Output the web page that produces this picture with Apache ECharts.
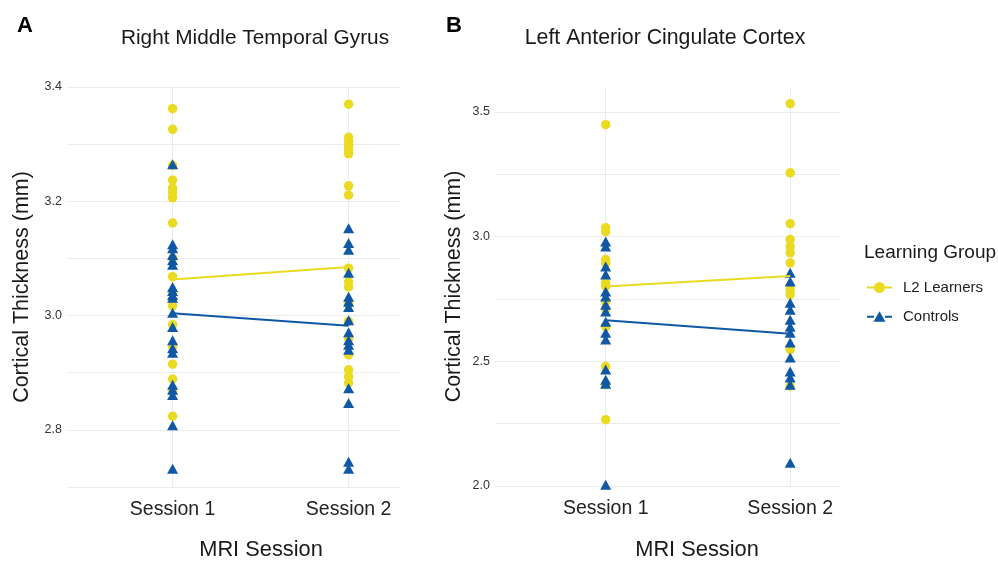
<!DOCTYPE html>
<html>
<head>
<meta charset="utf-8">
<script src="https://cdn.jsdelivr.net/npm/echarts@6/dist/echarts.min.js"></script>
<style>
html,body{margin:0;padding:0;background:#fff;}
#chart{width:998px;height:564px;}
</style>
</head>
<body>
<div id="chart"></div>
<script>
// ---- data ----
const sessions = ['Session 1', 'Session 2'];
const groups = ['L2 Learners', 'Controls'];
const panelTitles = ['Right Middle Temporal Gyrus', 'Left Anterior Cingulate Cortex'];
const panelLetters = ['A', 'B'];
const leftYTicks = ['2.8', '3.0', '3.2', '3.4'];
const rightYTicks = ['2.0', '2.5', '3.0', '3.5'];

// Panel A: Right Middle Temporal Gyrus
const rmtgL2S1 = [3.362, 3.326, 3.263, 3.237, 3.223, 3.215, 3.206, 3.162, 3.100, 3.068, 3.040, 3.017, 2.984, 2.946, 2.915, 2.889, 2.868, 2.824];
const rmtgCtS1 = [3.265, 3.125, 3.118, 3.106, 3.097, 3.089, 3.050, 3.043, 3.036, 3.031, 3.005, 2.980, 2.957, 2.943, 2.935, 2.879, 2.870, 2.861, 2.808, 2.732];
const rmtgL2S2 = [3.370, 3.312, 3.305, 3.297, 3.290, 3.283, 3.227, 3.211, 3.083, 3.059, 3.050, 3.020, 2.990, 2.960, 2.931, 2.905, 2.893, 2.882];
const rmtgCtS2 = [3.153, 3.127, 3.115, 3.075, 3.033, 3.024, 3.015, 2.992, 2.971, 2.957, 2.949, 2.940, 2.873, 2.847, 2.744, 2.732];
const rmtgMeanL2 = [3.063, 3.085];
const rmtgMeanCt = [3.004, 2.982];

// Panel B: Left Anterior Cingulate Cortex
const accL2S1 = [3.449, 3.036, 3.020, 2.908, 2.895, 2.815, 2.800, 2.740, 2.710, 2.639, 2.479, 2.406, 2.266];
const accCtS1 = [2.980, 2.960, 2.880, 2.848, 2.780, 2.760, 2.727, 2.700, 2.659, 2.615, 2.587, 2.467, 2.426, 2.410, 2.005];
const accL2S2 = [3.533, 3.256, 3.052, 2.988, 2.960, 2.935, 2.895, 2.787, 2.767, 2.547, 2.400];
const accCtS2 = [2.855, 2.820, 2.735, 2.707, 2.667, 2.639, 2.615, 2.575, 2.515, 2.459, 2.435, 2.406, 2.093];
const accMeanL2 = [2.800, 2.842];
const accMeanCt = [2.665, 2.611];

// ---- styling ----
const FONT = "'Liberation Sans', Arial, Helvetica, sans-serif";
const YELLOW = '#EADB22';
const BLUE = '#0F58A6';
const GRID = '#EBEBEB';
const ICON_L2 = 'path://M0,5h7v2H0z M18,5h7v2h-7z M18,6a5.5,5.5 0 1,1 -11,0a5.5,5.5 0 1,1 11,0z';
const ICON_CT = 'path://M0,5h7v2H0z M18,5h7v2h-7z M12.5,0.5L18.5,11H6.5z';

function pts(s1, s2) {
  return s1.map(v => [1, v]).concat(s2.map(v => [2, v]));
}
function meanLine(m) { return m.map((v, i) => [i + 1, v]); }

const chart = echarts.init(document.getElementById('chart'), null, {renderer: 'canvas'});

function xAxisDef(gridIndex, max) {
  return {
    type: 'value', gridIndex, min: 0.4, max: max,
    axisLine: {show: false},
    axisTick: {show: false, customValues: [1, 2]},
    axisLabel: {
      customValues: [1, 2],
      formatter: v => sessions[Math.round(v) - 1] || '',
      fontFamily: FONT, fontSize: 19.5, color: '#222', margin: 13
    },
    splitLine: {show: true, lineStyle: {color: GRID, width: 1}}
  };
}

const option = {
  animation: false,
  backgroundColor: '#ffffff',
  textStyle: {fontFamily: FONT},
  title: [
    {text: panelLetters[0], left: 12, top: 10, textStyle: {fontFamily: FONT, fontSize: 22, fontWeight: 'bold', color: '#000'}},
    {text: panelLetters[1], left: 441, top: 10, textStyle: {fontFamily: FONT, fontSize: 22, fontWeight: 'bold', color: '#000'}},
    {text: panelTitles[0], left: 250, top: 23, textAlign: 'center', textStyle: {fontFamily: FONT, fontSize: 20.8, fontWeight: 'normal', color: '#1a1a1a'}},
    {text: panelTitles[1], left: 660, top: 23, textAlign: 'center', textStyle: {fontFamily: FONT, fontSize: 21.3, fontWeight: 'normal', color: '#1a1a1a'}}
  ],
  legend: {
    orient: 'vertical', left: 862, top: 275,
    data: groups.map((g, i) => ({name: g, icon: i === 0 ? ICON_L2 : ICON_CT})),
    itemWidth: 25, itemHeight: 12, itemGap: 14,
    textStyle: {fontFamily: FONT, fontSize: 15, color: '#222', padding: [0, 0, 0, 6]},
    selectedMode: false
  },
  graphic: [
    {type: 'text', left: 864, top: 243, style: {text: 'Learning Group', font: '19px ' + FONT, fill: '#1a1a1a'}},
    {type: 'text', x: 261, y: 550, style: {text: 'MRI Session', font: '21.8px ' + FONT, fill: '#1a1a1a', align: 'center', verticalAlign: 'middle'}},
    {type: 'text', x: 697, y: 550, style: {text: 'MRI Session', font: '21.8px ' + FONT, fill: '#1a1a1a', align: 'center', verticalAlign: 'middle'}}
  ],
  grid: [
    {left: 67, top: 87, width: 333, height: 400},
    {left: 495, top: 87, width: 345, height: 399}
  ],
  xAxis: [xAxisDef(0, 2.292), xAxisDef(1, 2.27)],
  yAxis: [
    {
      type: 'value', gridIndex: 0, min: 2.7, max: 3.4, interval: 0.1,
      name: 'Cortical Thickness (mm)', nameLocation: 'middle', nameGap: 34,
      nameTextStyle: {fontFamily: FONT, fontSize: 21.5, color: '#1a1a1a'},
      axisLine: {show: false}, axisTick: {show: false},
      axisLabel: {
        fontFamily: FONT, fontSize: 12.5, color: '#333', margin: 5,
        formatter: v => { const s = v.toFixed(1); return leftYTicks.includes(s) && Math.abs(v - parseFloat(s)) < 1e-6 ? s : ''; }
      },
      splitLine: {show: true, lineStyle: {color: GRID, width: 1}}
    },
    {
      type: 'value', gridIndex: 1, min: 2.0, max: 3.6, interval: 0.25,
      name: 'Cortical Thickness (mm)', nameLocation: 'middle', nameGap: 30,
      nameTextStyle: {fontFamily: FONT, fontSize: 21.5, color: '#1a1a1a'},
      axisLine: {show: false}, axisTick: {show: false},
      axisLabel: {
        fontFamily: FONT, fontSize: 12.5, color: '#333', margin: 5, showMaxLabel: false,
        formatter: v => { const s = v.toFixed(1); return rightYTicks.includes(s) && Math.abs(v - parseFloat(s)) < 1e-6 ? s : ''; }
      },
      splitLine: {show: true, showMaxLine: false, lineStyle: {color: GRID, width: 1}}
    }
  ],
  series: [
    {name: groups[0], type: 'scatter', xAxisIndex: 0, yAxisIndex: 0, symbol: 'circle', symbolSize: 9.5,
     itemStyle: {color: YELLOW, opacity: 1}, data: pts(rmtgL2S1, rmtgL2S2)},
    {name: groups[1], type: 'scatter', xAxisIndex: 0, yAxisIndex: 0, symbol: 'triangle', symbolSize: [11, 10],
     itemStyle: {color: BLUE, opacity: 1}, data: pts(rmtgCtS1, rmtgCtS2)},
    {name: 'L2 mean A', type: 'line', xAxisIndex: 0, yAxisIndex: 0, symbol: 'none',
     lineStyle: {color: YELLOW, width: 2}, itemStyle: {color: YELLOW}, data: meanLine(rmtgMeanL2)},
    {name: 'Ctrl mean A', type: 'line', xAxisIndex: 0, yAxisIndex: 0, symbol: 'none',
     lineStyle: {color: BLUE, width: 2}, itemStyle: {color: BLUE}, data: meanLine(rmtgMeanCt)},

    {name: groups[0], type: 'scatter', xAxisIndex: 1, yAxisIndex: 1, symbol: 'circle', symbolSize: 9.5,
     itemStyle: {color: YELLOW, opacity: 1}, data: pts(accL2S1, accL2S2)},
    {name: groups[1], type: 'scatter', xAxisIndex: 1, yAxisIndex: 1, symbol: 'triangle', symbolSize: [11, 10],
     itemStyle: {color: BLUE, opacity: 1}, data: pts(accCtS1, accCtS2)},
    {name: 'L2 mean B', type: 'line', xAxisIndex: 1, yAxisIndex: 1, symbol: 'none',
     lineStyle: {color: YELLOW, width: 2}, itemStyle: {color: YELLOW}, data: meanLine(accMeanL2)},
    {name: 'Ctrl mean B', type: 'line', xAxisIndex: 1, yAxisIndex: 1, symbol: 'none',
     lineStyle: {color: BLUE, width: 2}, itemStyle: {color: BLUE}, data: meanLine(accMeanCt)}
  ]
};
chart.setOption(option);
</script>
</body>
</html>
